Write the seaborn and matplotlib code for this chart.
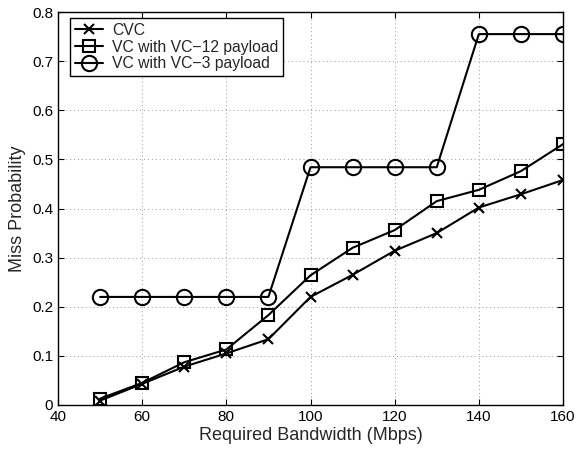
import matplotlib
matplotlib.use("Agg")
import matplotlib.pyplot as plt
import seaborn as sns
import pandas as pd

bandwidth = [50, 60, 70, 80, 90, 100, 110, 120, 130, 140, 150, 160]
cvc = [0.009, 0.043, 0.078, 0.105, 0.134, 0.220, 0.265, 0.314, 0.350, 0.402, 0.429, 0.458]
vc12 = [0.013, 0.045, 0.087, 0.113, 0.183, 0.264, 0.320, 0.356, 0.415, 0.438, 0.476, 0.531]
vc3 = [0.220, 0.220, 0.220, 0.220, 0.220, 0.484, 0.484, 0.484, 0.484, 0.755, 0.755, 0.755]
labels = ["CVC", "VC with VC\u221212 payload", "VC with VC\u22123 payload"]

sns.set_style("white")
plt.rcParams['font.family'] = ['Liberation Sans', 'DejaVu Sans']

fig = plt.figure(figsize=(5.76, 4.57), dpi=100)
ax = fig.add_axes([58/576, 1 - 405/457, 505/576, 393/457])

series = [cvc, vc12, vc3]
markers = ['x', 's', 'o']
msizes = [7, 9, 11]
for vals, lab, mk, ms in zip(series, labels, markers, msizes):
    df = pd.DataFrame({"x": bandwidth, "y": vals})
    sns.lineplot(data=df, x="x", y="y", ax=ax, color="black", linewidth=1.5,
                 marker=mk, markersize=ms, markerfacecolor="none",
                 markeredgecolor="black", markeredgewidth=1.5, label=lab)

ax.set_xlim(40, 160)
ax.set_ylim(0, 0.8)
ax.set_xticks(range(40, 161, 20))
ax.set_yticks([i / 10 for i in range(9)])
ax.set_yticklabels(["0", "0.1", "0.2", "0.3", "0.4", "0.5", "0.6", "0.7", "0.8"])
ax.grid(True, linestyle=(0, (1, 3)), color="#999999", linewidth=0.7)
ax.tick_params(direction="in", length=4, width=0.8, labelsize=11, top=True, right=True,
               bottom=True, left=True, colors="black")
for s in ax.spines.values():
    s.set_visible(True)
    s.set_color("black")
    s.set_linewidth(1.0)
ax.set_xlabel("Required Bandwidth (Mbps)", fontsize=13, labelpad=2)
ax.set_ylabel("Miss Probability", fontsize=13, labelpad=4)

leg = ax.legend(loc="upper left", bbox_to_anchor=(12/505, 1 - 6/393), fontsize=11.3,
                frameon=True, fancybox=False, edgecolor="black", borderaxespad=0,
                handlelength=1.8, labelspacing=0.12, borderpad=0.3, handletextpad=0.6)
leg.get_frame().set_linewidth(1.0)
leg.get_frame().set_alpha(1)

fig.savefig("out.png", dpi=100)
